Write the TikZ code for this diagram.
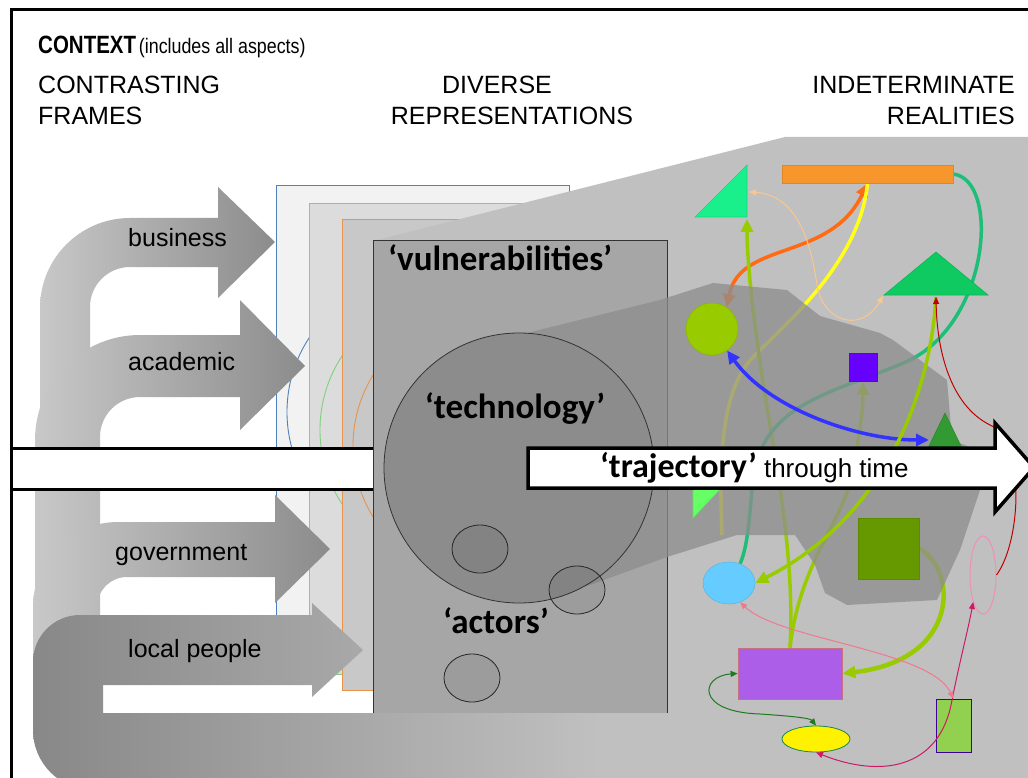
\documentclass[tikz,border=0pt]{standalone}
\usepackage{fontspec}
\setmainfont{Liberation Sans}
\newfontfamily\calibri{Carlito}
\usetikzlibrary{arrows.meta,shapes.geometric}
\pgfdeclarelayer{back}
\pgfdeclarelayer{under}
\pgfdeclarelayer{haze}
\pgfdeclarelayer{over}
\pgfsetlayers{back,under,haze,main,over}
\definecolor{beamgray}{HTML}{C0C0C0}
\definecolor{blobgray}{HTML}{8D8D8D}
\definecolor{boxgray}{HTML}{A6A6A6}
\definecolor{techgray}{HTML}{8C8C8C}
\definecolor{armdark}{HTML}{8C8C8C}
\definecolor{armlight}{HTML}{C8C8C8}
\definecolor{lpdark}{HTML}{888888}
\definecolor{framebl}{HTML}{4F81BD}
\definecolor{framegr}{HTML}{7FD07F}
\definecolor{frameor}{HTML}{E6934B}
\definecolor{frameblfill}{HTML}{F2F2F2}
\definecolor{framegrfill}{HTML}{DCDCDC}
\definecolor{frameorfill}{HTML}{C8C8C8}
\definecolor{mint}{HTML}{19F08C}
\definecolor{barorange}{HTML}{F7962C}
\definecolor{emerald}{HTML}{0FCA60}
\definecolor{limec}{HTML}{99CC00}
\definecolor{violetx}{HTML}{6600FF}
\definecolor{forest}{HTML}{339933}
\definecolor{paleleaf}{HTML}{66FF66}
\definecolor{sky}{HTML}{66CCFF}
\definecolor{olivesq}{HTML}{669900}
\definecolor{lilac}{HTML}{AD5EE8}
\definecolor{rosewood}{HTML}{C87080}
\definecolor{leaf}{HTML}{92D050}
\definecolor{rose}{HTML}{F090B8}
\definecolor{tangerine}{HTML}{FF6A13}
\definecolor{sunny}{HTML}{FFFF1A}
\definecolor{tealx}{HTML}{1EBE78}
\definecolor{royal}{HTML}{3333FF}
\definecolor{peach}{HTML}{F8C890}
\definecolor{crimson}{HTML}{CC1A66}
\definecolor{darkred}{HTML}{C00000}
\definecolor{pinkline}{HTML}{F07890}
\definecolor{darkgreen}{HTML}{1E7A1E}
\tikzset{
  Fat/.tip={Triangle[length=13pt,width=12pt]},
  Slim/.tip={Triangle[length=7pt,width=6pt]},
  heading/.style={font=\fontsize{25}{30}\selectfont},
  armlabel/.style={font=\fontsize{25}{30}\selectfont, anchor=base west},
  quoted/.style={font=\calibri\bfseries\fontsize{35}{40}\selectfont},
  arm/.style={left color=armlight, right color=armdark},
  repframe/.style={line width=0.9pt},
  blot/.style={draw=#1!90!black, fill=#1, line width=0.6pt},
  actor/.style={ellipse, minimum width=56pt, minimum height=48pt, draw=black!85, fill=black, fill opacity=0.06, line width=0.8pt},
  fatlink/.style={line width=3.5pt},
  thinlink/.style={line width=1pt},
}
\begin{document}
\begin{tikzpicture}[x=1pt, y=-1pt, every node/.style={inner sep=0pt}]
\useasboundingbox (0,0) rectangle (1028,778);

% technology and actors
\node[circle, minimum size=270pt, fill=techgray, draw=black!80, line width=0.8pt] (tech) at (519,468) {};
\node[actor] (actA) at (480,549) {};
\node[actor] (actB) at (577,590) {};
\node[actor] (actC) at (472,678) {};
\node[quoted, anchor=base] (techtxt) at (515,418) {‘technology’};
\node[quoted, anchor=base] (acttxt) at (496,633) {‘actors’};

% realities
\filldraw[blot=mint] (695,217) -- (747,217) -- (747,165) -- cycle;
\coordinate (wedge-s) at (747,219);
\coordinate (wedge-e) at (749,192);
\filldraw[blot=emerald] (884,295) -- (936,252) -- (988,295) -- cycle;
\coordinate (peak-s) at (936,297);
\coordinate (peak-w) at (883,296);
\filldraw[blot=forest] (915,475) -- (945,413) -- (975,475) -- cycle;
\coordinate (spire-w) at (929,440);
\filldraw[blot=paleleaf] (693,452) -- (693,518) -- (755,452) -- cycle;
\node[circle, minimum size=52pt, blot=limec] (ball) at (712,329) {};
\node[minimum width=171pt, minimum height=18pt, blot=barorange] (bar) at (867.5,174) {};
\node[minimum size=28pt, blot=violetx] (cube) at (863,367.5) {};
\node[ellipse, minimum width=52pt, minimum height=42pt, blot=sky] (pool) at (729,583) {};
\node[minimum size=61pt, blot=olivesq] (block) at (888.5,548.5) {};
\node[minimum width=104pt, minimum height=51pt, fill=lilac, draw=rosewood, line width=0.8pt] (slab) at (790,673.5) {};
\node[ellipse, minimum width=68pt, minimum height=26pt, fill=yellow, draw=tealx!70!black, line width=0.8pt] (disc) at (816,739) {};
\node[minimum width=35pt, minimum height=53pt, fill=leaf, draw=violetx!60!black, line width=0.8pt] (post) at (953.5,725.5) {};
\node[ellipse, minimum width=26pt, minimum height=78pt, draw=rose, line width=1pt] (loop) at (983,575) {};
\coordinate (sink) at (722,535);

\begin{pgfonlayer}{back}
\fill[white] (0,0) rectangle (1028,778);
% frames
\filldraw[repframe, draw=framebl, fill=frameblfill] (276,185) rectangle (569,656);
\draw[repframe, framebl] (422,412) circle[radius=135];
\filldraw[repframe, draw=framegr, fill=framegrfill] (309,203) rectangle (602,674);
\draw[repframe, framegr] (455,430) circle[radius=135];
\filldraw[repframe, draw=frameor, fill=frameorfill] (342,219) rectangle (635,690);
\draw[repframe, frameor] (488,446) circle[radius=135];
\fill[beamgray] (373,241) -- (785,137) -- (1040,137) -- (1040,790) -- (373,790) -- cycle;
% frames arrows
\shade[arm] (40,470) -- (40,308) arc[start angle=180, end angle=270, radius=90] -- (218,218) -- (218,187) -- (275,242) -- (218,298) -- (218,267) -- (130,267) arc[start angle=270, end angle=180, radius=40] -- (90,470) -- cycle;
\shade[arm] (35,700) -- (35,440) arc[start angle=180, end angle=270, radius=105] -- (240,335) -- (240,300) -- (305,366) -- (240,430) -- (240,397) -- (140,397) arc[start angle=270, end angle=180, radius=40] -- (100,700) -- cycle;
\shade[arm] (33,700) -- (33,607) arc[start angle=180, end angle=270, radius=85] -- (275,522) -- (275,495) -- (330,549) -- (275,603) -- (275,577) -- (127,577) arc[start angle=270, end angle=180, radius=30] -- (97,700) -- cycle;
\shade[left color=lpdark, right color=beamgray] (363,650) -- (312,603) -- (312,615) -- (80,615) arc[start angle=270, end angle=180, radius=47] -- (33,730) arc[start angle=180, end angle=90, radius=60] -- (600,790) -- (600,713) -- (103,713) -- (103,685) -- (312,685) -- (312,697) -- cycle;
\node[armlabel] (business) at (128,247) {business};
\node[armlabel] (academic) at (128,370) {academic};
\node[armlabel] (government) at (115,560) {government};
\node[armlabel] (locals) at (128,657) {local people};
\draw[line width=3pt, fill=white] (11.5,448.5) rectangle (380,489);
% vulnerabilities box
\fill[boxgray] (373,241) rectangle (667,713);
\draw[black!80, line width=1pt] (373,713) -- (373,241) -- (667,241) -- (667,713);
\node[quoted, anchor=base west] (vuln) at (388,270) {‘vulnerabilities’};
\end{pgfonlayer}

\begin{pgfonlayer}{under}
\draw[fatlink, tangerine, Fat-Fat] (ball.56) .. controls (740,240) and (830,262) .. (bar.south);
\draw[fatlink, sunny] (bar.south) .. controls (860,260) and (790,320) .. (755,355) .. controls (725,385) and (718,440) .. (sink);
\draw[fatlink, limec, -Fat] (slab.north) .. controls (796,540) and (768,430) .. (757,340) .. controls (750,290) and (747,250) .. (wedge-s);
\draw[fatlink, limec, -Fat] (slab.north) .. controls (800,560) and (845,520) .. (853,470) .. controls (860,430) and (863,410) .. (cube.south);
\draw[fatlink, tealx] (bar.east) .. controls (1000,180) and (990,320) .. (910,360) .. controls (840,392) and (762,400) .. (753,480) .. controls (749,520) and (748,545) .. (pool.60);
\draw[fatlink, limec, -Fat, line width=4.5pt] (block.east) .. controls (958,570) and (960,660) .. (slab.east);
\end{pgfonlayer}

\begin{pgfonlayer}{haze}
\fill[blobgray, fill opacity=0.75] (519,335) -- (660,300) -- (713,283) -- (787,290) -- (820,316) -- (880,333) -- (893,340) -- (947,380) -- (952,440) -- (977,450) -- (980,490) -- (960,550) -- (937,600) -- (847,605) -- (825,593) -- (815,565) -- (795,535) -- (737,535) -- (667,557) -- (590,585) -- (519,600) -- cycle;
\end{pgfonlayer}

\begin{pgfonlayer}{over}
\draw[fatlink, royal, Fat-Fat] (ball.-55) .. controls (770,410) and (860,440) .. (spire-w);
\draw[fatlink, limec, -Fat] (peak-s) .. controls (930,400) and (880,520) .. (pool.east);
\draw[thinlink, darkred, -Slim] (loop.east) .. controls (1022,540) and (1025,440) .. (990,425) .. controls (950,405) and (937,350) .. (peak-s);
\draw[thinlink, crimson, Slim-Slim] (disc.south) .. controls (880,778) and (940,770) .. (952,700) .. controls (960,660) and (968,630) .. (loop.-110);
\draw[thinlink, pinkline, Slim-Slim] (pool.-60) .. controls (780,640) and (930,650) .. (post.north);
\draw[thinlink, darkgreen, Slim-Slim] (slab.west) .. controls (700,676) and (695,712) .. (760,714) .. controls (790,716) and (810,718) .. (disc.north);
\draw[thinlink, peach, Slim-Slim] (wedge-e) .. controls (800,195) and (812,250) .. (817,285) .. controls (822,320) and (860,335) .. (peak-w);
% trajectory
\draw[line width=3.5pt, fill=white] (528,448) -- (995,448) -- (995,423) -- (1034,467.5) -- (995,512) -- (995,488) -- (528,488) -- cycle;
\node[font=\fontsize{26}{30}\selectfont, anchor=base west] (traj) at (600,477) {{\calibri\bfseries\fontsize{34}{40}\selectfont ‘trajectory’} through time};
% headings
\node[anchor=base west] (context) at (38,54) {\scalebox{0.82}[1]{\bfseries\fontsize{25}{29}\selectfont CONTEXT} \scalebox{0.85}[1]{\fontsize{21}{25}\selectfont (includes all aspects)}};
\node[heading, anchor=base west] (framesA) at (38,94) {CONTRASTING};
\node[heading, anchor=base west] (framesB) at (38,125) {FRAMES};
\node[heading, anchor=base] (repsA) at (497,94) {DIVERSE};
\node[heading, anchor=base] (repsB) at (512,125) {REPRESENTATIONS};
\node[heading, anchor=base east] (realA) at (1015,94) {INDETERMINATE};
\node[heading, anchor=base east] (realB) at (1015,125) {REALITIES};
\draw[line width=3pt] (11.5,9.5) rectangle (1045,795);
\end{pgfonlayer}
\end{tikzpicture}
\end{document}
